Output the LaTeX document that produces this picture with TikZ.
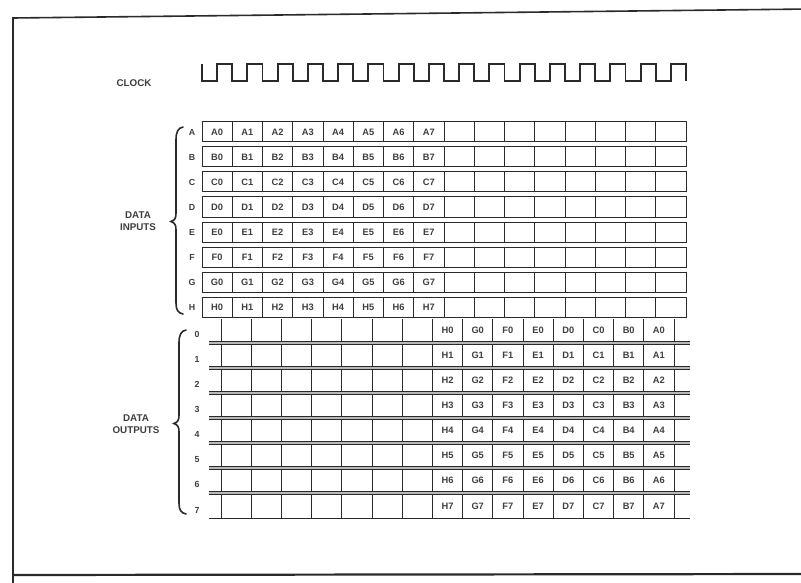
\documentclass[tikz,border=0pt]{standalone}
\usepackage{fontspec}
\setmainfont{Liberation Sans}
\definecolor{ink}{HTML}{2A2A2A}
\definecolor{band}{HTML}{B8B8B8}
\begin{document}
\begin{tikzpicture}[x=1pt,y=-1pt,
  gridline/.style={draw=ink, line width=1.0pt},
  frameline/.style={draw=ink, line width=1.6pt},
  clockline/.style={draw=ink, line width=1.8pt, line join=miter},
  braceline/.style={draw=ink, line width=1.6pt, line cap=round},
  celltext/.style={font=\bfseries\fontsize{9.3}{10}\selectfont, text=ink!90, inner sep=0pt, text height=6.7pt, text depth=0pt},
  rowlabel/.style={font=\bfseries\fontsize{8.8}{10}\selectfont, text=ink!90, inner sep=0pt, text height=6.4pt, text depth=0pt},
  sidelabel/.style={font=\bfseries\fontsize{9.8}{11.5}\selectfont, text=ink!90, inner sep=0pt, align=center}]
\useasboundingbox (0,0) rectangle (801,583);
\fill[white] (0,0) rectangle (801,583);
% frame
\draw[frameline] (13,590) -- (13,18) -- (810,9);
\draw[frameline, line width=2.2pt] (13,575) -- (810,574);
% clock
\node[sidelabel] (clocklabel) at (134,83) {CLOCK};
\draw[clockline] (202,64) -- (202,81)
  \foreach \k in {0,...,15}{
    -- ({217.1+30.25*\k},81) -- ({217.1+30.25*\k},64)
    -- ({232.25+30.25*\k},64) -- ({232.25+30.25*\k},81)};
% data inputs
\foreach \L [count=\n from 0] in {A,B,C,D,E,F,G,H}{
  \pgfmathsetmacro{\ytop}{122+25*\n}
  \pgfmathsetmacro{\ybot}{\ytop+20}
  \pgfmathsetmacro{\ymid}{\ytop+10}
  \draw[gridline] (202,\ytop) rectangle (686,\ybot);
  \foreach \j in {1,...,15}{
    \draw[gridline] ({202+30.25*\j},\ytop) -- ({202+30.25*\j},\ybot);
  }
  \node[rowlabel] (in-\L) at (192,\ymid) {\L};
  \foreach \j in {0,...,7}{
    \node[celltext] (in-\L\j) at ({217.1+30.25*\j},\ymid) {\L\j};
  }
}
\draw[braceline] (183,127) .. controls (178,128) and (176,132) .. (176,140)
  -- (176,213) .. controls (176,218) and (175,220) .. (171,221.5)
  .. controls (175,223) and (176,225) .. (176,230)
  -- (176,303) .. controls (176,310) and (178,313) .. (183,314);
\node[sidelabel] (inputs) at (138,221) {DATA\\INPUTS};
% data outputs
\foreach \n in {0,...,6}{
  \pgfmathsetmacro{\yl}{343+25*\n}
  \fill[band] (209,\yl-1.6) rectangle (690,\yl+1.6);
  \draw[gridline] (209,\yl-1.6) -- (690,\yl-1.6);
  \draw[gridline] (209,\yl+1.6) -- (690,\yl+1.6);
}
\draw[gridline] (209,518) -- (690,518);
\foreach \n in {0,...,7}{
  \pgfmathsetmacro{\ytop}{\n==0 ? 319 : 343+25*(\n-1)+1.6}
  \pgfmathsetmacro{\ybot}{\n==7 ? 518 : 343+25*\n-1.6}
  \pgfmathsetmacro{\ymid}{(\ytop+\ybot)/2}
  \foreach \j in {0,...,15}{
    \draw[gridline] ({221+30.2*\j},\ytop) -- ({221+30.2*\j},\ybot);
  }
  \node[rowlabel] (out-\n) at (197,\ymid+4) {\n};
  \foreach \L [count=\i from 7] in {H,G,F,E,D,C,B,A}{
    \node[celltext] (out-\L\n) at ({221+30.2*\i+15.1},\ymid) {\L\n};
  }
}
\draw[braceline] (186,330) .. controls (181,331) and (179,335) .. (179,343)
  -- (179,415) .. controls (179,420) and (178,422) .. (174,423.5)
  .. controls (178,425) and (179,427) .. (179,432)
  -- (179,503) .. controls (179,510) and (181,513) .. (186,514);
\node[sidelabel] (outputs) at (136,424) {DATA\\OUTPUTS};
\end{tikzpicture}
\end{document}
